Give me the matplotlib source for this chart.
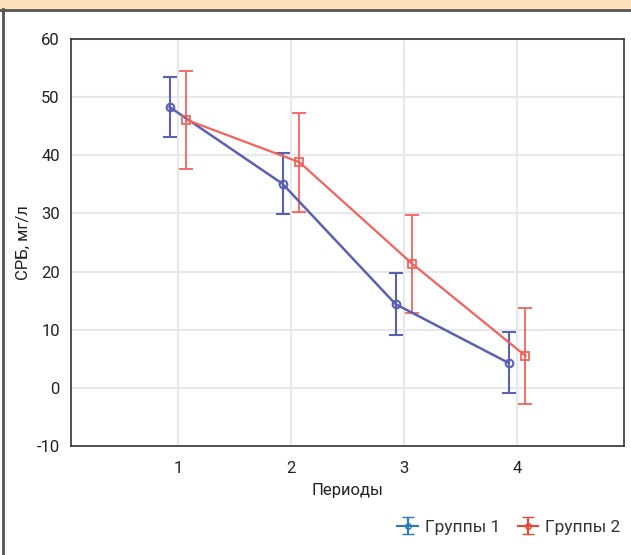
import matplotlib
matplotlib.use("Agg")
import matplotlib.pyplot as plt
from matplotlib.patches import Rectangle
from matplotlib.lines import Line2D

periods = [1, 2, 3, 4]
group1_mean = [48.3, 35.1, 14.4, 4.3]
group1_err = [5.2, 5.25, 5.3, 5.25]
group2_mean = [46.1, 38.8, 21.3, 5.5]
group2_err = [8.4, 8.5, 8.4, 8.25]
y_ticks = [-10, 0, 10, 20, 30, 40, 50, 60]
x_ticks = [1, 2, 3, 4]
series_names = ["Группы 1", "Группы 2"]

plt.rcParams['font.family'] = ['Roboto', 'DejaVu Sans']
plt.rcParams['axes.unicode_minus'] = False

fig = plt.figure(figsize=(6.31, 5.55), dpi=100)
ax = fig.add_axes([71/631, 1-446/555, (624-71)/631, (446-39)/555])

blue = "#5b61b2"
red = "#f4625c"
off = 0.075

x1 = [p - off for p in periods]
x2 = [p + off for p in periods]

ax.errorbar(x1, group1_mean, yerr=group1_err, color=blue, lw=1.8, capsize=5,
            capthick=1.5, elinewidth=1.5, marker='o', ms=5.5, mfc='none', mew=1.5, zorder=3)
ax.errorbar(x2, group2_mean, yerr=group2_err, color=red, lw=1.6, capsize=5,
            capthick=1.3, elinewidth=1.3, marker='s', ms=5.5, mfc='none', mew=1.3, zorder=3)

ax.set_xlim(0.053, 4.947)
ax.set_ylim(-10, 60)
ax.set_xticks(x_ticks)
ax.set_yticks(y_ticks)
ax.tick_params(length=0, labelsize=12, colors="#222222")
ax.tick_params(axis='y', pad=8)
ax.tick_params(axis='x', pad=11)
ax.grid(True, color="#e8e8e8", lw=1.5)
ax.set_axisbelow(True)
for s in ax.spines.values():
    s.set_color("#333333")
    s.set_linewidth(1.2)

ax.set_xlabel("Периоды", fontsize=12, color="#222222", labelpad=5)
ax.set_ylabel("СРБ, мг/л", fontsize=12, color="#222222", labelpad=4)

# legend handles
h1 = ax.errorbar([float('nan')], [float('nan')], yerr=[1], color="#2b79b9", lw=1.5,
                 capsize=4, marker='o', ms=4, mfc='none')
h2 = ax.errorbar([float('nan')], [float('nan')], yerr=[1], color="#e8482f", lw=1.5,
                 capsize=4, marker='o', ms=4, mfc='none')
fig.legend([h1, h2], series_names, loc='center right', bbox_to_anchor=(1.0, 1-527/555),
           ncol=2, frameon=False, fontsize=12.5, handlelength=1.2, handletextpad=0.4,
           columnspacing=1.0, labelcolor="#333333", borderaxespad=0.2)

# header band and border
fig.patches.append(Rectangle((0, 1-9/555), 1, 9/555, transform=fig.transFigure,
                             facecolor="#fddfbb", edgecolor='none', zorder=0))
fig.lines.append(Line2D([0, 1], [1-10/555, 1-10/555], transform=fig.transFigure,
                        color="#555555", lw=2))
fig.lines.append(Line2D([3/631, 3/631], [0, 1-9/555], transform=fig.transFigure,
                        color="#555555", lw=2))

fig.savefig("out.png", dpi=100)
